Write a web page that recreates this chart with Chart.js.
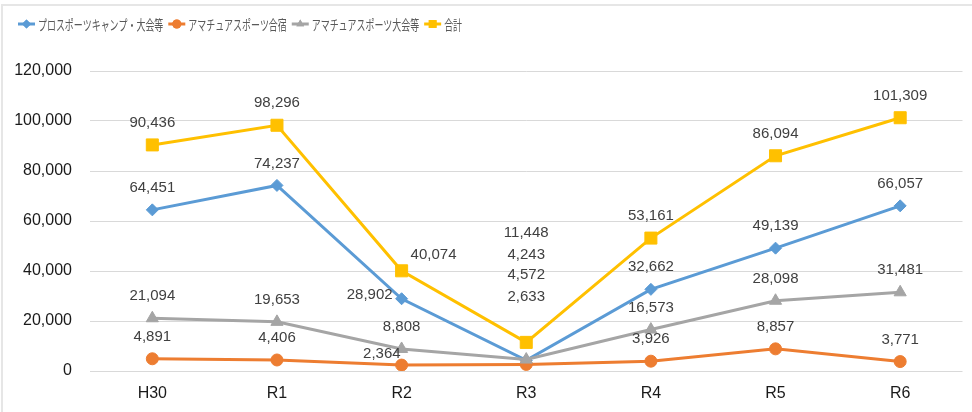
<!DOCTYPE html>
<html>
<head>
<meta charset="utf-8">
<script src="https://cdn.jsdelivr.net/npm/chart.js@4/dist/chart.umd.min.js"></script>
<style>
  html, body { margin: 0; padding: 0; background: #fff; }
  #wrap { width: 972px; height: 412px; position: relative; }
</style>
</head>
<body>
<div id="wrap"><canvas id="c" width="972" height="412"></canvas></div>
<script>
// ---- data ----
const categories = ['H30', 'R1', 'R2', 'R3', 'R4', 'R5', 'R6'];
const seriesNames = ['プロスポーツキャンプ・大会等', 'アマチュアスポーツ合宿', 'アマチュアスポーツ大会等', '合計'];
const proCamp  = [64451, 74237, 28902, 4243, 32662, 49139, 66057];
const amaCamp  = [4891, 4406, 2364, 2633, 3926, 8857, 3771];
const amaTourn = [21094, 19653, 8808, 4572, 16573, 28098, 31481];
const total    = [90436, 98296, 40074, 11448, 53161, 86094, 101309];
const yTickMax = 120000;
const yTickStep = 20000;

// ---- styles ----
const colors = ['#5B9BD5', '#ED7D31', '#A5A5A5', '#FFC000'];
const pointStyles = ['rectRot', 'circle', 'triangle', 'rect'];
const pointRadii = [6, 6, 7, 8.5];

// label placement tweaks (dataset index -> point index -> offset)
const labelTweaks = {
  0: { 2: { dx: -9, dy: -4, align: 'right' }, 3: { dx: 0, dy: -106 } },
  1: { 2: { dx: -1, dy: -11, align: 'right' }, 3: { dx: 0, dy: -68 } },
  2: { 3: { dx: 0, dy: -85 } },
  3: { 2: { dx: 9, dy: -16, align: 'left' }, 3: { dx: 0, dy: -110 } }
};

const fmt = v => Number(v).toLocaleString('en-US');

const seriesData = [proCamp, amaCamp, amaTourn, total];
const datasets = seriesData.map((d, i) => ({
  label: seriesNames[i],
  data: d,
  borderColor: colors[i],
  backgroundColor: colors[i],
  borderWidth: 3,
  pointStyle: pointStyles[i],
  pointRadius: pointRadii[i],
  pointHoverRadius: pointRadii[i],
  pointBorderWidth: 1,
  pointBorderColor: colors[i],
  pointBackgroundColor: colors[i],
  tension: 0,
  order: 4 - i
}));

const framePlugin = {
  id: 'frame',
  beforeDraw(chart) {
    const ctx = chart.ctx;
    ctx.save();
    ctx.fillStyle = '#fff';
    ctx.fillRect(0, 0, chart.width, chart.height);
    ctx.strokeStyle = '#E6E6E6';
    ctx.lineWidth = 2;
    ctx.beginPath();
    ctx.moveTo(chart.width, 5);
    ctx.lineTo(2, 5);
    ctx.lineTo(2, chart.height);
    ctx.stroke();
    ctx.restore();
  }
};

const legendPlugin = {
  id: 'customLegend',
  afterDraw(chart) {
    const ctx = chart.ctx;
    const y = 24;
    let x = 18;
    ctx.save();
    ctx.font = '14px "Noto Sans CJK JP"';
    ctx.textBaseline = 'middle';
    const perChar = 8.95;
    chart.data.datasets.forEach((ds, i) => {
      ctx.strokeStyle = ds.borderColor;
      ctx.lineWidth = 3;
      ctx.beginPath();
      ctx.moveTo(x, y);
      ctx.lineTo(x + 17, y);
      ctx.stroke();
      ctx.fillStyle = ds.borderColor;
      Chart.helpers.drawPoint(ctx, {
        pointStyle: ds.pointStyle,
        radius: i === 3 ? 5.5 : 4.5,
        rotation: 0,
        borderWidth: 0
      }, x + 8.5, y);
      ctx.fill();
      const tx = x + 20;
      const target = ds.label.length * perChar;
      const scaleX = target / ctx.measureText(ds.label).width;
      ctx.save();
      ctx.translate(tx, y);
      ctx.scale(scaleX, 1);
      ctx.fillStyle = '#595959';
      ctx.fillText(ds.label, 0, 1);
      ctx.restore();
      x = tx + target + 5;
    });
    ctx.restore();
  }
};

const labelPlugin = {
  id: 'pointLabels',
  afterDatasetsDraw(chart) {
    const ctx = chart.ctx;
    ctx.save();
    ctx.font = '15px "Liberation Sans"';
    ctx.fillStyle = '#404040';
    ctx.textBaseline = 'middle';
    chart.data.datasets.forEach((ds, di) => {
      const meta = chart.getDatasetMeta(di);
      meta.data.forEach((pt, pi) => {
        const t = (labelTweaks[di] && labelTweaks[di][pi]) || { dx: 0, dy: -22, align: 'center' };
        ctx.textAlign = t.align || 'center';
        ctx.fillText(fmt(ds.data[pi]), pt.x + t.dx, pt.y + t.dy);
      });
    });
    ctx.restore();
  }
};

new Chart(document.getElementById('c'), {
  type: 'line',
  data: { labels: categories, datasets },
  options: {
    responsive: false,
    animation: false,
    events: [],
    layout: { padding: { top: 71, right: 9, bottom: 0, left: 0 } },
    plugins: {
      legend: { display: false },
      tooltip: { enabled: false }
    },
    scales: {
      x: {
        offset: true,
        grid: { display: false, drawTicks: false },
        border: { display: false },
        ticks: {
          padding: 13,
          color: '#1a1a1a',
          font: { family: '"Liberation Sans"', size: 16 },
          maxRotation: 0
        },
        afterFit(scale) { scale.height = 41; }
      },
      y: {
        min: 0,
        max: yTickMax,
        grid: { color: '#D9D9D9', lineWidth: 1, drawTicks: false },
        border: { display: false },
        ticks: {
          stepSize: yTickStep,
          padding: 18,
          color: '#1a1a1a',
          font: { family: '"Liberation Sans"', size: 16 },
          callback: v => fmt(v)
        },
        afterFit(scale) { scale.width = 90; }
      }
    }
  },
  plugins: [framePlugin, legendPlugin, labelPlugin]
});
</script>
</body>
</html>
